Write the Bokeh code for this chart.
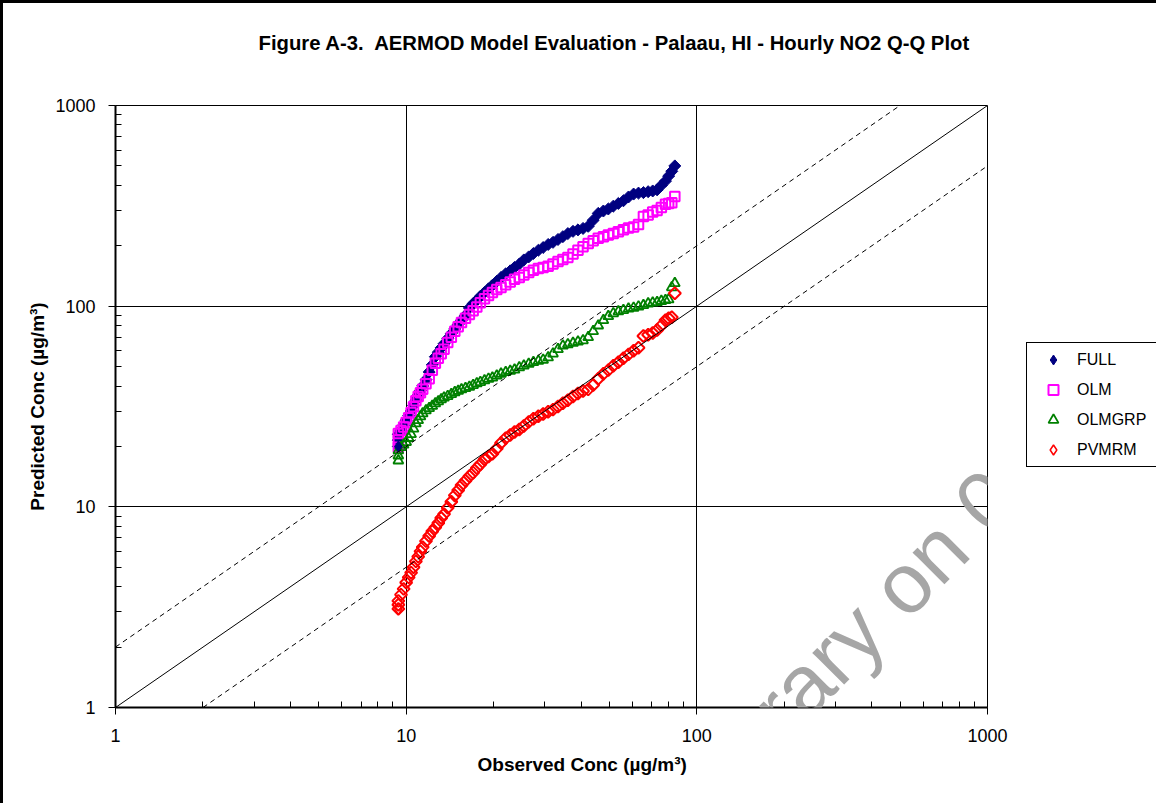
import numpy as np
from bokeh.plotting import figure
from bokeh.models import Label, Legend, LegendItem, FixedTicker, NumeralTickFormatter, Title
from bokeh.embed import file_html
from bokeh.resources import INLINE

# ---------------- data ----------------
observed = [9.4, 9.4, 9.4, 9.6, 9.8, 10.0, 10.2, 10.4, 10.6, 10.8,
            11.0, 11.2, 11.4, 11.7, 12.0, 12.3, 12.6, 12.9, 13.2, 13.5,
            13.9, 14.3, 14.7, 15.1, 15.5, 16.0, 16.5, 17.0, 17.5, 18.0,
            18.6, 19.2, 19.8, 20.5, 21.2, 22.0, 22.8, 23.6, 24.5, 25.4,
            26.4, 27.4, 28.5, 29.6, 30.8, 32.0, 33.3, 34.6, 36.0, 37.5,
            39.0, 40.6, 42.3, 44.0, 45.8, 47.7, 49.6, 51.6, 53.7, 55.9,
            58.2, 60.6, 63.0, 65.5, 68.0, 70.5, 73.0, 75.5, 78.0, 80.0,
            82.0, 84.0]

full = [20, 21.5, 23, 24, 25.5, 27, 28.5, 30, 32, 34,
        36, 38, 40, 43, 47, 51, 56, 59, 62, 65,
        69, 73, 77, 81, 85, 90, 98, 103, 107, 112,
        117, 122, 127, 133, 139, 145, 150, 156, 162, 170,
        176, 183, 190, 196, 203, 208, 215, 222, 230, 236,
        240, 244, 250, 268, 290, 298, 305, 315, 325, 335,
        350, 362, 366, 368, 372, 375, 380, 400, 420, 445,
        470, 500]

olm = [19.8, 21.5, 23.2, 24, 25, 26.3, 27.8, 29.5, 31.5, 33.8,
       35.5, 37, 38.5, 41, 43.5, 48, 52, 55, 58, 61,
       66, 70, 75, 79, 83, 87, 91, 95, 99, 104,
       109, 113, 117, 121, 124, 128, 132, 136, 139, 143,
       147, 151, 154, 156, 158, 162, 167, 171, 175, 182,
       190, 198, 205, 212, 218, 222, 226, 230, 235, 240,
       245, 248, 255, 280, 285, 295, 300, 310, 322, 325,
       328, 352]

olmgrp = [17, 18, 19.1, 19.8, 20.4, 21, 22, 23, 24.5, 26,
          27, 28.2, 29.2, 30.2, 31, 31.8, 32.7, 33.5, 34.3, 35,
          35.6, 36.4, 37.2, 37.8, 38.4, 39, 39.6, 40.4, 41.2, 41.8,
          42.6, 43.4, 44, 45, 46, 46.8, 47.5, 48.2, 49.5, 50.5,
          51.5, 52.5, 53.3, 54, 55.5, 58, 61, 63.5, 64.5, 65.5,
          66.5, 67.5, 70, 75, 80, 85, 89, 92, 94, 95.5,
          97, 98, 99.5, 101, 103, 104, 104.5, 106, 107, 108,
          124, 130]

pvmrm = [3.1, 3.25, 3.4, 3.65, 3.9, 4.2, 4.45, 4.7, 5.0, 5.35,
         5.65, 6.0, 6.3, 6.75, 7.15, 7.55, 7.9, 8.3, 8.8, 9.2,
         9.9, 10.6, 11.4, 12.1, 12.8, 13.5, 14.2, 14.8, 15.6, 16.3,
         17.2, 17.8, 18.4, 19.5, 20.8, 22.0, 22.8, 23.6, 24.3, 25.3,
         26.5, 27.5, 28.3, 29.0, 29.8, 30.5, 31.6, 32.8, 34.0, 35.5,
         36.7, 37.8, 38.5, 40.5, 43.5, 46, 48, 50.5, 52.5, 55,
         57.5, 60, 62, 71, 72, 73.5, 76, 80, 85, 87,
         88, 116]

series_names = ["FULL", "OLM", "OLMGRP", "PVMRM"]

# reference lines (1:1 and factor-of-two)
one_x, one_y = [1, 1000], [1, 1000]
hi_x, hi_y = [1, 500], [2, 1000]
lo_x, lo_y = [2, 1000], [1, 500]

major_ticks = [1, 10, 100, 1000]
minor_ticks = [2, 3, 4, 5, 6, 7, 8, 9,
               20, 30, 40, 50, 60, 70, 80, 90,
               200, 300, 400, 500, 600, 700, 800, 900]

title_text = "Figure A-3.\u00a0 AERMOD Model Evaluation - Palaau, HI - Hourly NO2 Q-Q Plot"
x_label_text = "Observed Conc (µg/m³)"
y_label_text = "Predicted Conc (µg/m³)"
watermark_text = "Library on 06/03/2020"

FONT = "Liberation Sans"

# ---------------- figure ----------------
p = figure(width=1153, height=800, frame_width=872, frame_height=602,
           x_axis_type="log", y_axis_type="log",
           x_range=(1, 1000), y_range=(1, 1000),
           output_backend="svg", toolbar_location=None)
p.min_border_left = 112
p.min_border_right = 169
p.min_border_top = 102
p.min_border_bottom = 96
p.background_fill_color = "white"
p.border_fill_color = "white"
p.outline_line_color = "black"
p.outline_line_width = 1
p.outline_line_alpha = 1
p.styles = {"border-top": "3px solid black", "border-left": "3px solid black"}

ticker = FixedTicker(ticks=major_ticks, minor_ticks=minor_ticks)
for ax in (p.xaxis[0], p.yaxis[0]):
    ax.ticker = ticker
    ax.formatter = NumeralTickFormatter(format="0")
    ax.major_label_text_font = FONT
    ax.major_label_text_font_size = "18px"
    ax.major_label_text_color = "black"
    ax.axis_line_width = 2
    ax.axis_line_color = "black"
    ax.major_tick_in = 0
    ax.major_tick_out = 7
    ax.minor_tick_in = 6
    ax.minor_tick_out = 0
    ax.major_tick_line_color = "black"
    ax.minor_tick_line_color = "black"
p.xaxis[0].major_label_standoff = 14
p.yaxis[0].major_label_standoff = 13

p.yaxis[0].axis_label = y_label_text
p.yaxis[0].axis_label_text_font = FONT
p.yaxis[0].axis_label_text_font_style = "bold"
p.yaxis[0].axis_label_text_font_size = "19px"
p.yaxis[0].axis_label_text_color = "black"
p.yaxis[0].axis_label_standoff = 4

for g in (p.xgrid[0], p.ygrid[0]):
    g.ticker = ticker
    g.grid_line_color = "black"
    g.grid_line_alpha = 1
    g.grid_line_width = 1

# ---------------- series ----------------
r_full = p.scatter(observed, full, marker="square", angle=np.pi / 4, size=8.5,
                   fill_color="#000080", line_color="#000080", line_width=1)
r_olm = p.scatter(observed, olm, marker="square", size=9.5, fill_color=None,
                  line_color="#FF00FF", line_width=2)
r_grp = p.scatter(observed, olmgrp, marker="triangle", size=10, fill_color=None,
                  line_color="#008000", line_width=1.8)
r_pv = p.scatter(observed, pvmrm, marker="square", angle=np.pi / 4, size=8.5,
                 fill_color=None, line_color="#FF0000", line_width=2)

# diamond-shaped legend keys (drawn on the first point of each diamond series)
k_full = p.scatter(observed[:1], full[:1], marker="diamond", size=11,
                   fill_color="#000080", line_color="#000080", line_width=1)
k_pv = p.scatter(observed[:1], pvmrm[:1], marker="diamond", size=11,
                 fill_color=None, line_color="#FF0000", line_width=1.5)

p.line(one_x, one_y, line_color="black", line_width=1)
p.line(hi_x, hi_y, line_color="black", line_width=1, line_dash="5 4")
p.line(lo_x, lo_y, line_color="black", line_width=1, line_dash="5 4")

# ---------------- legend (right side panel) ----------------
legend = Legend(items=[LegendItem(label=n, renderers=[r]) for n, r in
                       zip(series_names, [k_full, r_olm, r_grp, k_pv])],
                location=(39, 240), orientation="vertical")
legend.margin = 0
legend.padding = 4
legend.spacing = 5
legend.glyph_width = 44
legend.glyph_height = 25
legend.label_standoff = 2
legend.label_width = 75
legend.label_height = 25
legend.label_text_font = FONT
legend.label_text_font_size = "16px"
legend.label_text_color = "black"
legend.border_line_color = "black"
legend.border_line_width = 1
legend.border_line_alpha = 1
legend.background_fill_color = "white"
legend.background_fill_alpha = 1
p.add_layout(legend, "right")

# ---------------- titles ----------------
spacer = Title(text=" ", text_font_size="10px", standoff=34)
p.add_layout(spacer, "above")
p.title.text = title_text
p.title.align = "left"
p.title.offset = 143
p.title.standoff = 10
p.title.text_font = FONT
p.title.text_font_style = "bold"
p.title.text_font_size = "20.3px"
p.title.text_color = "black"

xlab = Title(text=x_label_text, align="left", offset=362, standoff=14,
             text_font=FONT, text_font_style="bold", text_font_size="19px",
             text_color="black")
p.add_layout(xlab, "below")

# watermark (inside the plot frame)
p.add_layout(Label(x=570, y=-94, x_units="screen", y_units="screen", text=watermark_text,
                   angle=np.pi / 4, text_align="left", text_baseline="alphabetic",
                   text_font=FONT, text_font_size="85px", text_color="#a6a6a6"))

open("out.html", "w").write(file_html(p, INLINE))
